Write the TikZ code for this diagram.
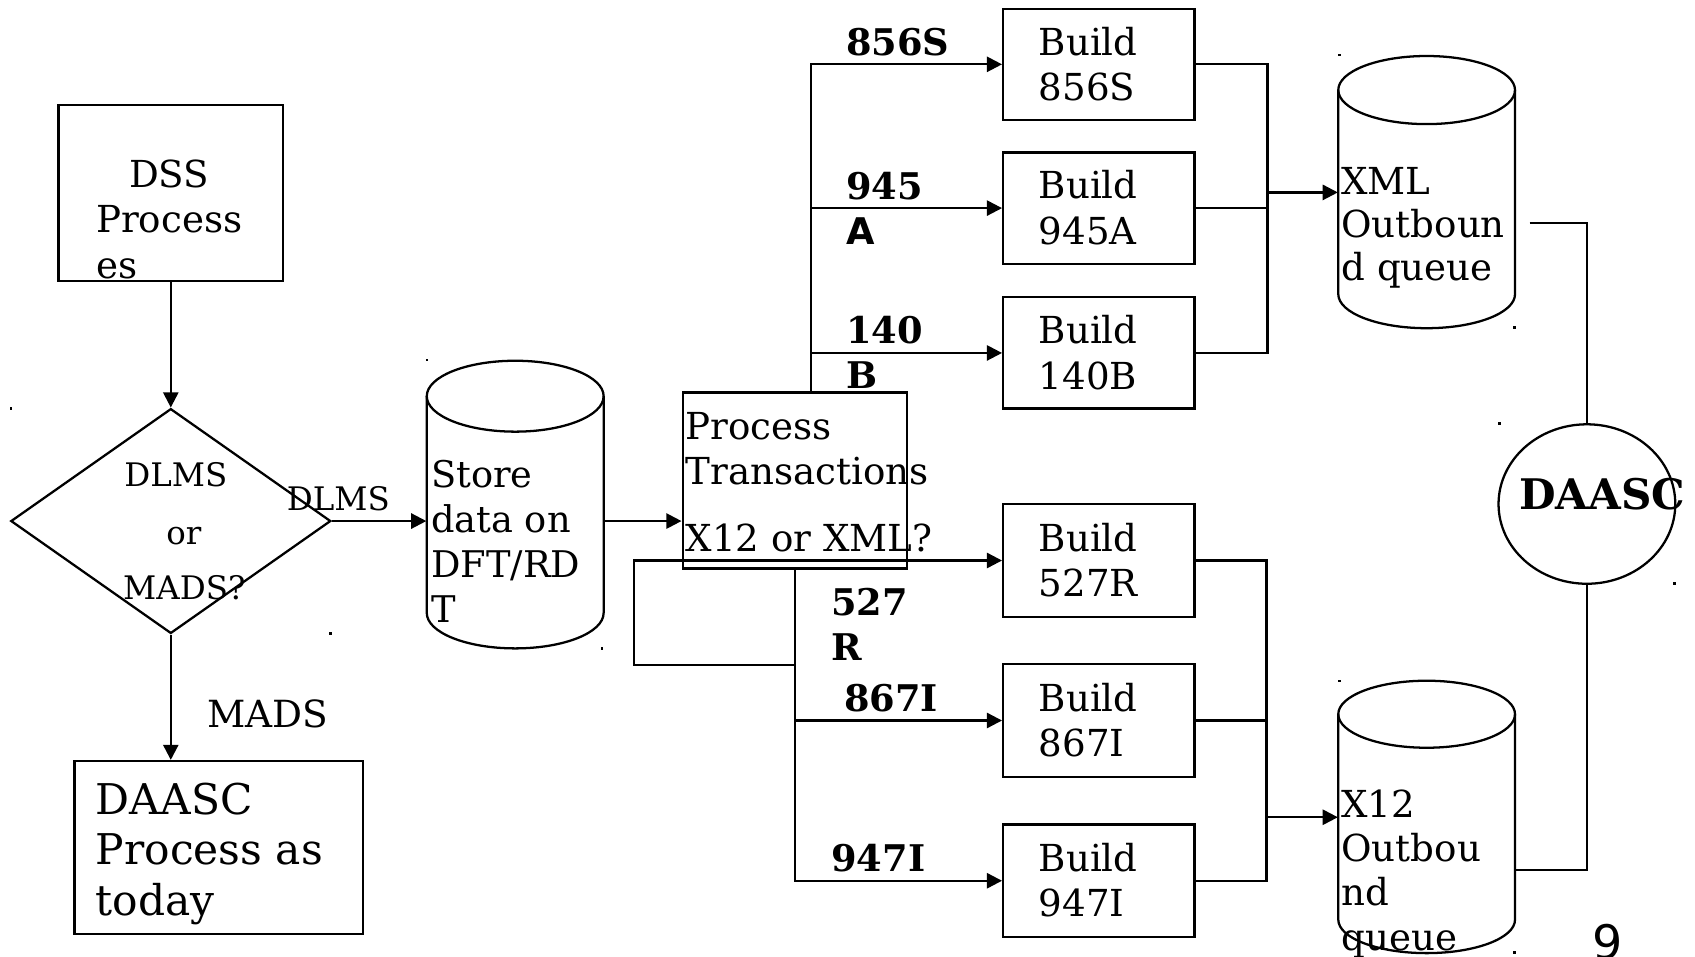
\documentclass[tikz,border=0pt]{standalone}
\usepackage{fontspec}
\setmainfont{DejaVu Serif}
\newfontfamily\dvsans{DejaVu Sans}
\usetikzlibrary{arrows.meta,shapes.geometric}
\newcommand\mlines[1]{\vtop{\halign{##\hfil\cr#1\crcr}}}
\begin{document}
\begin{tikzpicture}[x=0.5pt,y=-0.5pt,
  box/.style={draw,rectangle,line width=1.05pt,inner sep=0},
  ln/.style={line width=1.05pt},
  arr/.style={ln,-{Triangle[length=7pt,width=7pt]}},
  inv/.style={rectangle,inner sep=0},
  txt/.style={anchor=base west,inner sep=0},
  main/.style={font=\fontsize{17.2}{21}\selectfont},
  small/.style={font=\fontsize{15}{19}\selectfont},
  lab/.style={font=\fontsize{17}{21}\selectfont\bfseries},
  dotm/.style={fill=black}]
\useasboundingbox (0,0) rectangle (1568,885);

% shapes
\node[box,minimum width=104pt,minimum height=81.5pt] (dss) at (158,178.5) {};
\node[draw,diamond,line width=1.05pt,inner sep=0,minimum width=148pt,minimum height=104pt] (dec) at (158,482) {};
\node[box,minimum width=133.5pt,minimum height=80pt] (today) at (202.5,784) {};
\node[inv,minimum width=81.8pt,minimum height=117.8pt] (store) at (476.6,482) {};
\node[box,minimum width=103.75pt,minimum height=81.5pt] (proc) at (735.25,444.5) {};
\node[box,minimum width=88.5pt,minimum height=51.5pt] (b856) at (1016.5,59.5) {};
\node[box,minimum width=88.5pt,minimum height=51.5pt] (b945) at (1016.5,192.5) {};
\node[box,minimum width=88.5pt,minimum height=51.5pt] (b140) at (1016.5,326.5) {};
\node[box,minimum width=88.5pt,minimum height=52pt] (b527) at (1016.5,518.5) {};
\node[box,minimum width=88.5pt,minimum height=52pt] (b867) at (1016.5,666.5) {};
\node[box,minimum width=88.5pt,minimum height=52pt] (b947) at (1016.5,814.75) {};
\node[inv,minimum width=81.75pt,minimum height=100pt] (xml) at (1319.75,178) {};
\node[inv,minimum width=81.75pt,minimum height=100pt] (x12) at (1319.75,756) {};
\node[draw,ellipse,line width=1.05pt,inner sep=0,minimum width=81.75pt,minimum height=73.75pt] (daasc) at (1468,466.25) {};

% cylinders
\draw[ln] (394.8,366.5) -- (394.8,567) arc[start angle=180,end angle=360,x radius=40.9pt,y radius=16.4pt] -- (558.4,366.5);
\draw[ln] (476.6,366.5) ellipse[x radius=40.9pt,y radius=16.4pt];
\draw[ln] (1238,83.3) -- (1238,272.1) arc[start angle=180,end angle=360,x radius=40.875pt,y radius=15.75pt] -- (1401.5,83.3);
\draw[ln] (1319.75,83.3) ellipse[x radius=40.875pt,y radius=15.75pt];
\draw[ln] (1238,660.7) -- (1238,850.7) arc[start angle=180,end angle=360,x radius=40.875pt,y radius=15.5pt] -- (1401.5,660.7);
\draw[ln] (1319.75,660.7) ellipse[x radius=40.875pt,y radius=15.5pt];

% connectors
\draw[arr] (dss.south) -- (dec.north);
\draw[arr] (dec.east) -- (store.west);
\draw[arr] (dec.south) -- (dec.south |- today.north);
\draw[arr] (store.east) -- (store.east -| proc.west);
\coordinate (tb) at (750,363);
\draw[arr] (tb) |- (b856.west);
\draw[arr] (tb |- b945.west) -- (b945.west);
\draw[arr] (tb |- b140.west) -- (b140.west);
\coordinate (rb1) at (1172.6,178);
\draw[ln] (b856.east) -| (rb1 |- b140.east) -- (b140.east);
\draw[ln] (b945.east) -- (b945.east -| rb1);
\draw[arr] (rb1) -- (rb1 -| xml.west);
\coordinate (xo) at (1415,206.6);
\draw[ln] (xo) -| (daasc.north);
\coordinate (x12o) at (1401.5,805);
\draw[ln] (x12o) -| (daasc.south);
\draw[arr] (proc.south) |- (b947.west);
\draw[arr] (proc.south |- b867.west) -- (b867.west);
\coordinate (lp) at (586.5,615);
\draw[arr] (proc.south |- lp) -- (lp) |- (b527.west);
\coordinate (rb2) at (1171.5,756);
\draw[ln] (b527.east) -| (rb2 |- b947.east) -- (b947.east);
\draw[ln] (b867.east) -- (b867.east -| rb2);
\draw[arr] (rb2) -- (rb2 -| x12.west);

% texts
\node[main,anchor=base,inner sep=0] (tdss) at (156.5,173.5) {DSS};
\node[txt,main] (tdss2) at (88.5,215.5) {\mlines{Process\cr es}};
\node[txt,small,anchor=base] (td1) at (162.7,450) {DLMS};
\node[txt,small,anchor=base] (td2) at (170,504) {or};
\node[txt,small,anchor=base] (td3) at (170.5,555) {MADS?};
\node[txt,small] (tdlms) at (265,472.7) {DLMS};
\node[txt,font=\fontsize{17.3}{21}\selectfont] (tmads) at (191.5,672.8) {MADS};
\node[txt,font=\fontsize{19.6}{23.5}\selectfont] (ttoday) at (88.3,753) {\mlines{DAASC\cr Process as\cr today}};
\node[txt,font=\fontsize{17}{20.75}\selectfont] (tstore) at (398.5,451.2) {\mlines{Store\cr data on\cr DFT/RD\cr T}};
\node[txt,main] (tproc) at (634,406.4) {\mlines{Process\cr Transactions}};
\node[txt,main] (tproc2) at (634,510.3) {X12 or XML?};
\node[txt,main] (tb856) at (960.5,51) {\mlines{Build\cr 856S}};
\node[txt,main] (tb945) at (960.5,184) {\mlines{Build\cr 945A}};
\node[txt,main] (tb140) at (960.5,318) {\mlines{Build\cr 140B}};
\node[txt,main] (tb527) at (960.5,510) {\mlines{Build\cr 527R}};
\node[txt,main] (tb867) at (960.5,658) {\mlines{Build\cr 867I}};
\node[txt,main] (tb947) at (960.5,806.25) {\mlines{Build\cr 947I}};
\node[txt,font=\fontsize{17.2}{20}\selectfont] (txml) at (1240.5,179.5) {\mlines{XML\cr Outboun\cr d queue}};
\node[txt,font=\fontsize{17.2}{20.5}\selectfont] (tx12) at (1240.5,756) {\mlines{X12\cr Outbou\cr nd\cr queue}};
\node[txt,lab] (l856) at (782.3,50.9) {856S};
\node[txt,lab] (l945) at (782.3,184.4) {\mlines{945\cr{\dvsans A}}};
\node[txt,lab] (l140) at (782.3,317.6) {\mlines{140\cr B}};
\node[txt,lab] (l527) at (768.7,569) {\mlines{527\cr R}};
\node[txt,lab] (l867) at (780.5,658.3) {867I};
\node[txt,lab] (l947) at (768.7,806.4) {947I};
\node[txt,font=\fontsize{19.5}{24}\selectfont\bfseries] (tdaasc) at (1405,471.2) {DAASC};
\node[txt,font=\dvsans\fontsize{22}{26}\selectfont] (tnine) at (1472.5,887.7) {9};

% small corner marks
\foreach \p/\q in {10/378,395/333,306/586,557/600,1239/51,1401/303,1387/392,1549/540,1239/630,1401/881}
  \fill[dotm] (\p-1.2,\q-1.2) rectangle (\p+1.2,\q+1.2);
\end{tikzpicture}
\end{document}
